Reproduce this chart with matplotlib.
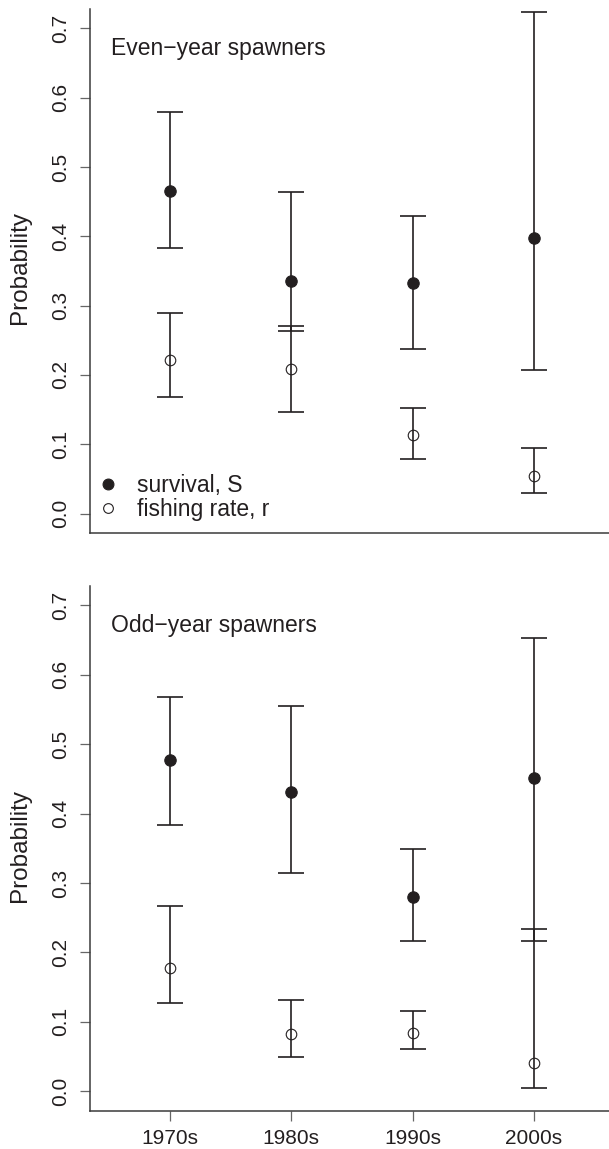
import matplotlib
matplotlib.use("Agg")
import matplotlib.pyplot as plt
from matplotlib.lines import Line2D
import numpy as np

plt.rcParams['font.family'] = ['Liberation Sans', 'DejaVu Sans']

decades = ['1970s', '1980s', '1990s', '2000s']

even_S = [0.466, 0.336, 0.332, 0.397]
even_S_lo = [0.383, 0.264, 0.237, 0.207]
even_S_hi = [0.580, 0.464, 0.430, 0.724]
even_r = [0.222, 0.208, 0.113, 0.054]
even_r_lo = [0.168, 0.146, 0.079, 0.029]
even_r_hi = [0.289, 0.271, 0.153, 0.094]

odd_S = [0.477, 0.431, 0.280, 0.452]
odd_S_lo = [0.383, 0.314, 0.217, 0.217]
odd_S_hi = [0.568, 0.555, 0.349, 0.653]
odd_r = [0.178, 0.083, 0.084, 0.041]
odd_r_lo = [0.127, 0.050, 0.061, 0.005]
odd_r_hi = [0.267, 0.132, 0.115, 0.234]

yticks = [0.0, 0.1, 0.2, 0.3, 0.4, 0.5, 0.6, 0.7]
ytick_labels = ['0.0', '0.1', '0.2', '0.3', '0.4', '0.5', '0.6', '0.7']

INK = '#231f20'
SPINE = '#3a3a3a'
W, H = 609, 1149
fig = plt.figure(figsize=(W / 100, H / 100), dpi=100)

ax_left = 90 / W
ax_w = 524 / W
ax_top = fig.add_axes([ax_left, (H - 533) / H, ax_w, 524 / H])
ax_bot = fig.add_axes([ax_left, (H - 1110.7) / H, ax_w, 524.7 / H])

x = np.arange(1, len(decades) + 1)


def panel(ax, S, S_lo, S_hi, r, r_lo, r_hi, title, show_x):
    S = np.array(S); r = np.array(r)
    for vals, lo, hi in ((S, S_lo, S_hi), (r, r_lo, r_hi)):
        ax.errorbar(x, vals, yerr=[vals - np.array(lo), np.array(hi) - vals],
                    fmt='none', ecolor=INK, elinewidth=1.2, capsize=9.6,
                    capthick=1.2, zorder=2)
    ax.plot(x, S, 'o', ms=8.2, mfc=INK, mec=INK, mew=0.8, zorder=3)
    ax.plot(x, r, 'o', ms=7.6, mfc='none', mec=INK, mew=0.8, zorder=3)
    ax.set_xlim(0.34, 4.66)
    ax.set_ylim(-0.028, 0.728)
    ax.set_yticks(yticks)
    ax.set_yticklabels(ytick_labels, rotation=90, va='center')
    for s in ('top', 'right'):
        ax.spines[s].set_visible(False)
    for s in ('left', 'bottom'):
        ax.spines[s].set_color(SPINE)
        ax.spines[s].set_linewidth(1.1)
    ax.tick_params(axis='y', length=7.2, width=0.9, color='#666666',
                   labelsize=15, labelcolor=INK, pad=7)
    if show_x:
        ax.set_xticks(x)
        ax.set_xticklabels(decades)
        ax.tick_params(axis='x', length=7.0, width=0.9, color='#666666',
                       labelsize=15, labelcolor=INK, pad=6)
    else:
        ax.set_xticks([])
    ax.set_ylabel('Probability', fontsize=17.5, color=INK)
    ax.yaxis.set_label_coords(-0.113, 0.506)
    ax.text(0.040, 0.912, title, transform=ax.transAxes, ha='left',
            va='baseline', fontsize=16.5, color=INK)


panel(ax_top, even_S, even_S_lo, even_S_hi, even_r, even_r_lo, even_r_hi,
      'Even\u2212year spawners', False)
panel(ax_bot, odd_S, odd_S_lo, odd_S_hi, odd_r, odd_r_lo, odd_r_hi,
      'Odd\u2212year spawners', True)

handles = [Line2D([], [], ls='none', marker='o', ms=7.8, mfc=INK, mec=INK, mew=0.8),
           Line2D([], [], ls='none', marker='o', ms=7.0, mfc='none', mec=INK, mew=0.8)]
ax_top.legend(handles, ['survival, S', 'fishing rate, r'], loc='lower left',
              bbox_to_anchor=(0.0168, 0.022), frameon=False, borderpad=0,
              borderaxespad=0, handlelength=0.8, handletextpad=0.87,
              labelspacing=0.08, fontsize=16.5, labelcolor=INK)

fig.savefig('out.png', dpi=100)
